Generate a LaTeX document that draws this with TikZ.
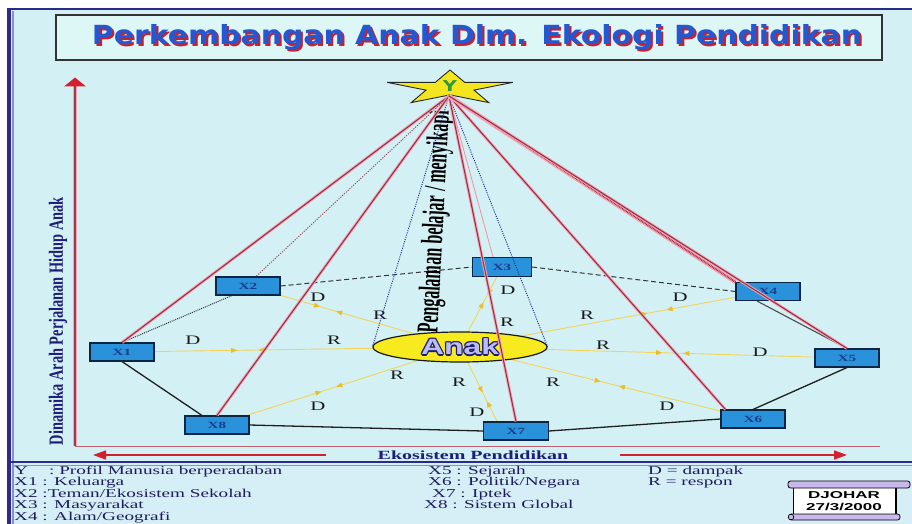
\documentclass[tikz,border=0pt]{standalone}
\usepackage{fontspec}
\setmainfont{Liberation Serif}
\newfontfamily\lsans{Liberation Sans}
\newfontfamily\dvsans{DejaVu Sans}
\usetikzlibrary{arrows.meta,decorations.markings,shapes.geometric}
\pgfdeclarelayer{bg}\pgfdeclarelayer{mid}\pgfdeclarelayer{fg}
\pgfsetlayers{bg,mid,main,fg}
\definecolor{bgc}{HTML}{D3F1F5}
\definecolor{legbg}{HTML}{D6EEF6}
\definecolor{framec}{HTML}{2B2B8C}
\definecolor{lavline}{HTML}{8C8CDC}
\definecolor{boxc}{HTML}{2A92DA}
\definecolor{boxd}{HTML}{0B2545}
\definecolor{xtext}{HTML}{1A3C8C}
\definecolor{redl}{HTML}{9C2E42}
\definecolor{pinkl}{HTML}{F2A8B8}
\definecolor{yell}{HTML}{F2D45A}
\definecolor{yela}{HTML}{EDBE2C}
\definecolor{navy}{HTML}{1E1E78}
\definecolor{legc}{HTML}{1C1C5E}
\definecolor{titleb}{HTML}{2458D0}
\definecolor{titler}{HTML}{C8202E}
\definecolor{titlebg}{HTML}{DDF6F6}
\definecolor{anakc}{HTML}{F7EA1E}
\definecolor{lav}{HTML}{BCBCF4}
\definecolor{axisr}{HTML}{D4202E}
\definecolor{axisb}{HTML}{A33A4C}
\definecolor{dotblue}{HTML}{1C2C8C}
\definecolor{stary}{HTML}{F4E61E}
\definecolor{ygreen}{HTML}{2E9A3A}
\definecolor{scrollc}{HTML}{C9B8EC}
\newcommand{\wide}[1]{\scalebox{1.6}[1]{#1}}
\tikzset{
 xbox/.style={draw=boxd, line width=1.1pt, fill=boxc, minimum width=64pt, minimum height=18pt, inner sep=0pt, text=xtext, font=\fontsize{9.5}{9.5}\selectfont\bfseries},
 lbl/.style={font=\fontsize{13}{13}\selectfont, text=black!90, inner sep=0pt},
 redln/.style={preaction={draw=pinkl, line width=3pt}, draw=redl, line width=1.1pt},
 reddotln/.style={draw=redl!70!gray, line width=0.9pt, dash pattern=on 1.2pt off 1.3pt},
 redband/.style={preaction={draw=pinkl, line width=4.5pt}, draw=redl, line width=1.8pt, dash pattern=on 0.8pt off 0.8pt},
 pinkln/.style={draw=pinkl!85!red, line width=0.8pt},
 bluedot/.style={draw=dotblue, line width=1pt, dash pattern=on 1pt off 1.3pt},
 blkln/.style={draw=black!88, line width=1.3pt},
 blkdash/.style={draw=black!80, line width=1pt, dash pattern=on 5pt off 3pt},
 blkdot/.style={draw=black!80, line width=1pt, dash pattern=on 1pt off 1pt},
 yln/.style 2 args={draw=yell, line width=0.9pt, postaction={decorate, decoration={markings,
   mark=at position #1 with {\arrow[yela]{Triangle[length=6pt,width=5pt]}},
   mark=at position #2 with {\arrowreversed[yela]{Triangle[length=6pt,width=5pt]}}}}},
 legtxt/.style={anchor=base west, inner sep=0pt, text=legc, font=\fontsize{12}{12}\selectfont},
 botarrow/.style={draw=axisr, line width=1.6pt, -{Triangle[length=13pt,width=9pt]}},
}
\begin{document}
\begin{tikzpicture}[x=1pt,y=-1pt]
\useasboundingbox (0,0) rectangle (912,524);
% ---------- nodes ----------
\node[draw=black!80, line width=1.2pt, fill=titlebg, minimum width=826pt, minimum height=45pt, inner sep=0pt] (titlebox) at (469,37.5) {};
\node[text=titler, inner sep=0pt] (titlesh) at (479,39.8) {\resizebox{770pt}{20pt}{\dvsans\bfseries Perkembangan Anak Dlm. Ekologi Pendidikan}};
\node[text=titleb, inner sep=0pt] (title) at (477,37.5) {\resizebox{770pt}{20pt}{\dvsans\bfseries Perkembangan Anak Dlm. Ekologi Pendidikan}};

\node[xbox] (x1) at (122,352) {\wide{X1}};
\node[xbox] (x2) at (248,286) {\wide{X2}};
\node[xbox, minimum width=59pt, minimum height=19pt] (x3) at (502,267) {\wide{X3}};
\node[xbox] (x4) at (768,291.5) {\wide{X4}};
\node[xbox] (x5) at (847,358) {\wide{X5}};
\node[xbox] (x6) at (753,419) {\wide{X6}};
\node[xbox, minimum width=65pt] (x7) at (516,431) {\wide{X7}};
\node[xbox] (x8) at (217,425) {\wide{X8}};

\node[ellipse, draw=black!90, line width=1.2pt, fill=anakc, minimum width=174pt, minimum height=30pt, inner sep=0pt] (anak) at (460,347) {};
\foreach \dx/\dy [count=\i] in {1.2/0,-1.2/0,0/1.2,0/-1.2,0.9/0.9,-0.9/0.9,0.9/-0.9,-0.9/-0.9}
  \node[text=navy, inner sep=0pt, font=\lsans\bfseries\fontsize{22}{22}\selectfont] (anako\i) at ([shift={(\dx,\dy)}]anak.center) {\scalebox{1.45}[1]{Anak}};
\node[text=lav, inner sep=0pt, font=\lsans\bfseries\fontsize{22}{22}\selectfont] (anaktxt) at (anak.center) {\scalebox{1.45}[1]{Anak}};

\node[rotate=87, inner sep=0pt, text=black] (peng) at (436,222) {\resizebox{222pt}{21pt}{\bfseries Pengalaman belajar / menyikapi}};
\node[rotate=90, inner sep=0pt, text=navy] (dyn) at (58,321) {\resizebox{248pt}{14pt}{\bfseries Dinamika Arah Perjalanan Hidup Anak}};

% D / R labels
\node[lbl] (d1) at (193,340) {\wide{D}};  \node[lbl] (r1) at (334,340) {\wide{R}};
\node[lbl] (d2) at (318,297) {\wide{D}};  \node[lbl] (r2) at (380,315) {\wide{R}};
\node[lbl] (d3) at (508,290) {\wide{D}};  \node[lbl] (r3) at (507,322) {\wide{R}};
\node[lbl] (d4) at (680,297) {\wide{D}};  \node[lbl] (r4) at (587,315) {\wide{R}};
\node[lbl] (d5) at (760,352) {\wide{D}};  \node[lbl] (r5) at (603,345) {\wide{R}};
\node[lbl] (d6) at (667,406) {\wide{D}};  \node[lbl] (r6) at (553,382) {\wide{R}};
\node[lbl] (d7) at (477,412) {\wide{D}};  \node[lbl] (r7) at (459,382) {\wide{R}};
\node[lbl] (d8) at (318,406) {\wide{D}};  \node[lbl] (r8) at (397,375) {\wide{R}};

% star
\filldraw[fill=stary, draw=black!85, line width=0.9pt] (450,70) -- (435.2,82.4) -- (387.2,82.4) -- (426,90.1) -- (411.2,102.6) -- (450,94.9) -- (488.8,102.6) -- (474,90.1) -- (512.8,82.4) -- (464.8,82.4) -- cycle;
\node[text=ygreen, inner sep=0pt, font=\dvsans\bfseries\fontsize{15}{15}\selectfont] (ystar) at (450,86.5) {\scalebox{1.3}[1]{Y}};
\coordinate (yc) at (449,96);

% axis
\coordinate (ax0) at (75,446);
\coordinate (axtop) at (75,86);
\coordinate (axend) at (880,446);
\coordinate (la1) at (326,455);
\coordinate (la2) at (93,455);
\coordinate (ra1) at (620,455);
\coordinate (ra2) at (847,455);
\node[inner sep=0pt, text=navy, font=\fontsize{12.5}{12.5}\selectfont\bfseries] (eko) at (473,455) {\wide{Ekosistem Pendidikan}};

% legend
\node[legtxt] (l1) at (14,474) {\wide{Y\hspace{1.1em}: Profil Manusia berperadaban}};
\node[legtxt] (l2) at (14,485.5) {\wide{X1 : Keluarga}};
\node[legtxt] (l3) at (14,497) {\wide{X2 :Teman/Ekosistem Sekolah}};
\node[legtxt] (l4) at (14,508.5) {\wide{X3 : Masyarakat}};
\node[legtxt] (l5) at (14,520) {\wide{X4 : Alam/Geografi}};
\node[legtxt] (l6) at (428,474) {\wide{X5 : Sejarah}};
\node[legtxt] (l7) at (428,485.5) {\wide{X6 : Politik/Negara}};
\node[legtxt] (l8) at (432,497) {\wide{X7 : Iptek}};
\node[legtxt] (l9) at (424,508.5) {\wide{X8 : Sistem Global}};
\node[legtxt] (l10) at (648,474) {\wide{D = dampak}};
\node[legtxt] (l11) at (648,485.5) {\wide{R = respon}};

% scroll
\filldraw[fill=white, draw=black, line width=0.9pt] (793,486) rectangle (895,516);
\draw[black, line width=2.2pt] (896.2,488) -- (896.2,516);
\filldraw[fill=scrollc, draw=black, line width=0.8pt, rounded corners=2.5pt] (788,481) rectangle (910,488);
\filldraw[fill=scrollc, draw=black, line width=0.8pt, rounded corners=2.5pt] (789,514) rectangle (900,520);
\filldraw[fill=scrollc, draw=black, line width=0.7pt] (791,517) circle (2.8);
\node[inner sep=0pt, font=\lsans\bfseries\fontsize{10}{10}\selectfont] (dj1) at (844,495.5) {\scalebox{1.7}[1]{DJOHAR}};
\node[inner sep=0pt, font=\lsans\bfseries\fontsize{10}{10}\selectfont] (dj2) at (844,506.5) {\scalebox{1.7}[1]{27/3/2000}};

% ---------- background ----------
\begin{pgfonlayer}{bg}
\fill[white] (0,0) rectangle (912,524);
\fill[bgc] (7,9) rectangle (912,524);
\fill[legbg] (13,463) rectangle (912,524);
\draw[framec, line width=2pt] (7,9.5) -- (912,9.5);
\draw[framec, line width=3.5pt] (9,8.5) -- (9,524);
\draw[lavline, line width=1.5pt] (12.8,11) -- (12.8,524);
\draw[framec, line width=2.8pt] (7,462) -- (912,462);
\draw[lavline, line width=1.5pt] (13,465.6) -- (912,465.6);
% axes
\draw[redl!75, line width=0.8pt] (ax0) -- (axend);
\draw[preaction={draw=pinkl, line width=4pt}, draw=axisb, line width=1.7pt] (ax0) -- (axtop);
\fill[axisr] (64,86.5) -- (75,77.5) -- (86,86.5) -- cycle;
\draw[botarrow] (la1) -- (la2);
\draw[botarrow] (ra1) -- (ra2);
\end{pgfonlayer}

% ---------- middle lines ----------
\begin{pgfonlayer}{mid}
\draw[blkdot] (x1.north) -- ([xshift=-16pt]x2.south);
\draw[blkdash] (x2.east) -- (x3.west);
\draw[blkdash] (x3.east) -- (x4.west);
\draw[blkln, draw=black!70, line width=1.1pt] ([xshift=-11pt]x4.south) -- (x5.north);
\draw[blkln] (x5.south) -- (x6.north);
\draw[blkln] (x6.west) -- (x7.east);
\draw[blkln] (x7.west) -- (x8.east);
\draw[blkln] ([xshift=-15pt]x8.north) -- (x1.south);
\draw[yln={0.27}{0.34}] (x1) -- (anak.center);
\draw[yln={0.22}{0.31}] (x2) -- (anak.center);
\draw[yln={0.25}{0.36}] (x3) -- (anak.center);
\draw[yln={0.25}{0.32}] (x4) -- (anak.center);
\draw[yln={0.37}{0.43}] (x5) -- (anak.center);
\draw[yln={0.39}{0.46}] (x6) -- (anak.center);
\draw[yln={0.27}{0.39}] ([xshift=-19pt]x7.north) -- (anak.center);
\draw[yln={0.35}{0.42}] (x8) -- (anak.center);
\end{pgfonlayer}

% ---------- foreground lines ----------
\begin{pgfonlayer}{fg}
\draw[bluedot] (yc) -- (anak.west);
\draw[bluedot] (yc) -- (anak.east);
\draw[pinkln] (yc) -- ([xshift=-9pt]x3.north);
\draw[redln] (yc) -- (x1.north);
\draw[reddotln] (yc) -- ([xshift=8pt]x2.north);
\draw[redln] (yc) -- (x8.north);
\draw[redln] (yc) -- (x7.north);
\draw[redln] (yc) -- ([xshift=5pt]x6.north west);
\draw[redband] (yc) -- (x4.north west);
\draw[redln] (yc) -- (x5.north);
\end{pgfonlayer}
\end{tikzpicture}
\end{document}
